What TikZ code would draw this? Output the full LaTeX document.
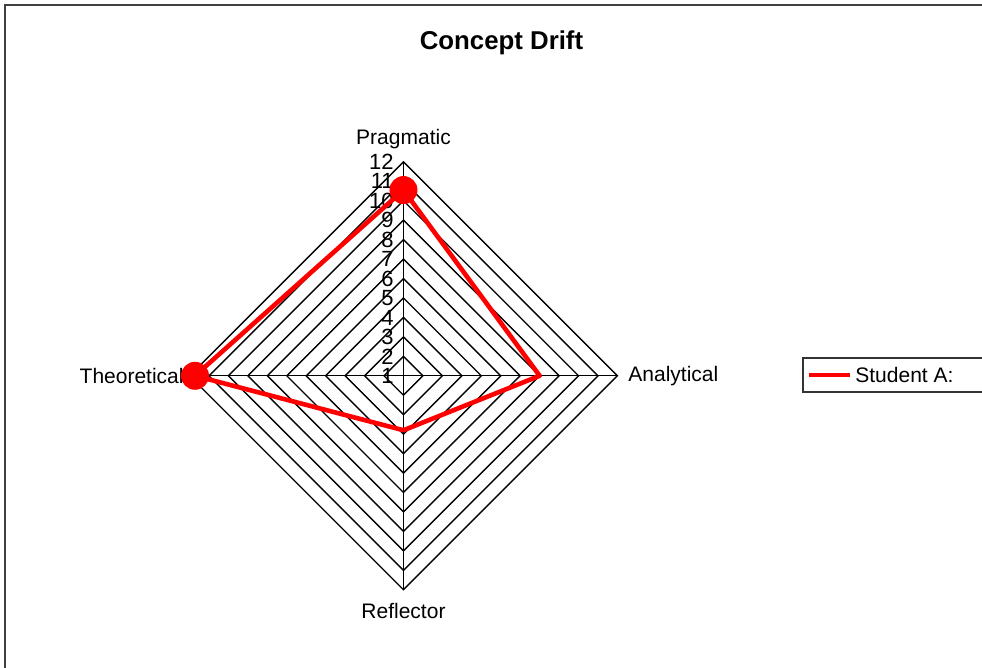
\documentclass[tikz,border=0pt]{standalone}
\usepackage{fontspec}
\setmainfont{Liberation Sans}
\def\rs{19.45}
\def\dotmark{node[circle, fill=red, inner sep=0pt, minimum size=14pt]{}}

\begin{document}
\begin{tikzpicture}[x=0.5pt, y=0.5pt,
    ring/.style={black, line width=0.7pt},
    lbl/.style={font=\fontsize{10.5}{12}\selectfont, inner sep=0pt},
    tick/.style={font=\fontsize{11}{12}\selectfont, inner sep=0pt, anchor=east},
    serie/.style={red, line width=2.3pt, line join=round}]
  \useasboundingbox (-403.5,-292.2) rectangle (578.5,375.8);
  \clip (-403.5,-292.2) rectangle (578.5,375.8);
  \draw[black!75, line width=1pt] (-398.5,370.8) rectangle (600,-310);
  \node[font=\fontsize{12.9}{15}\selectfont\bfseries] (title) at (98,332.8) {Concept Drift};
  % grid
  \coordinate (o) at (0,0);
  \foreach \v in {2,...,12}{
    \pgfmathsetmacro{\rad}{(\v-1)*\rs}
    \draw[ring] (\rad,0) -- (0,\rad) -- (-\rad,0) -- (0,-\rad) -- cycle;
  }
  \foreach \x in {0,...,3}{
    \coordinate (a\x) at (\x*90+90:11*\rs);
    \draw[ring] (o) -- (a\x);
  }
  \foreach \v in {1,...,12}{
    \node[tick] (t\v) at (-9.5,{(\v-1)*\rs}) {\v};
  }
  \node[lbl] (prag) at (0,237) {Pragmatic};
  \node[lbl, anchor=east] (theo) at (-219.5,0) {Theoretical};
  \node[lbl] (refl) at (0,-235) {Reflector};
  \node[lbl, anchor=west] (anal) at (224.5,0) {Analytical};
  % data
  \foreach \v [count=\x from 0] in {10.55,11.72,3.8,8}{
    \coordinate (d\x) at (\x*90+90:{(\v-1)*\rs});
  }
  \draw[serie] (d0) -- (d1) -- (d2) -- (d3) -- cycle;
  \draw (d0) \dotmark;
  \draw (d1) \dotmark;
  % legend
  \draw[black!80, line width=1pt] (399.5,17.8) rectangle (600,-15.9);
  \coordinate (l0) at (405.5,0.8);
  \coordinate (l1) at (446.5,0.8);
  \draw[serie] (l0) -- (l1);
  \node[lbl, anchor=west] (leg) at (451.5,0.8) {Student A:};
\end{tikzpicture}
\end{document}
